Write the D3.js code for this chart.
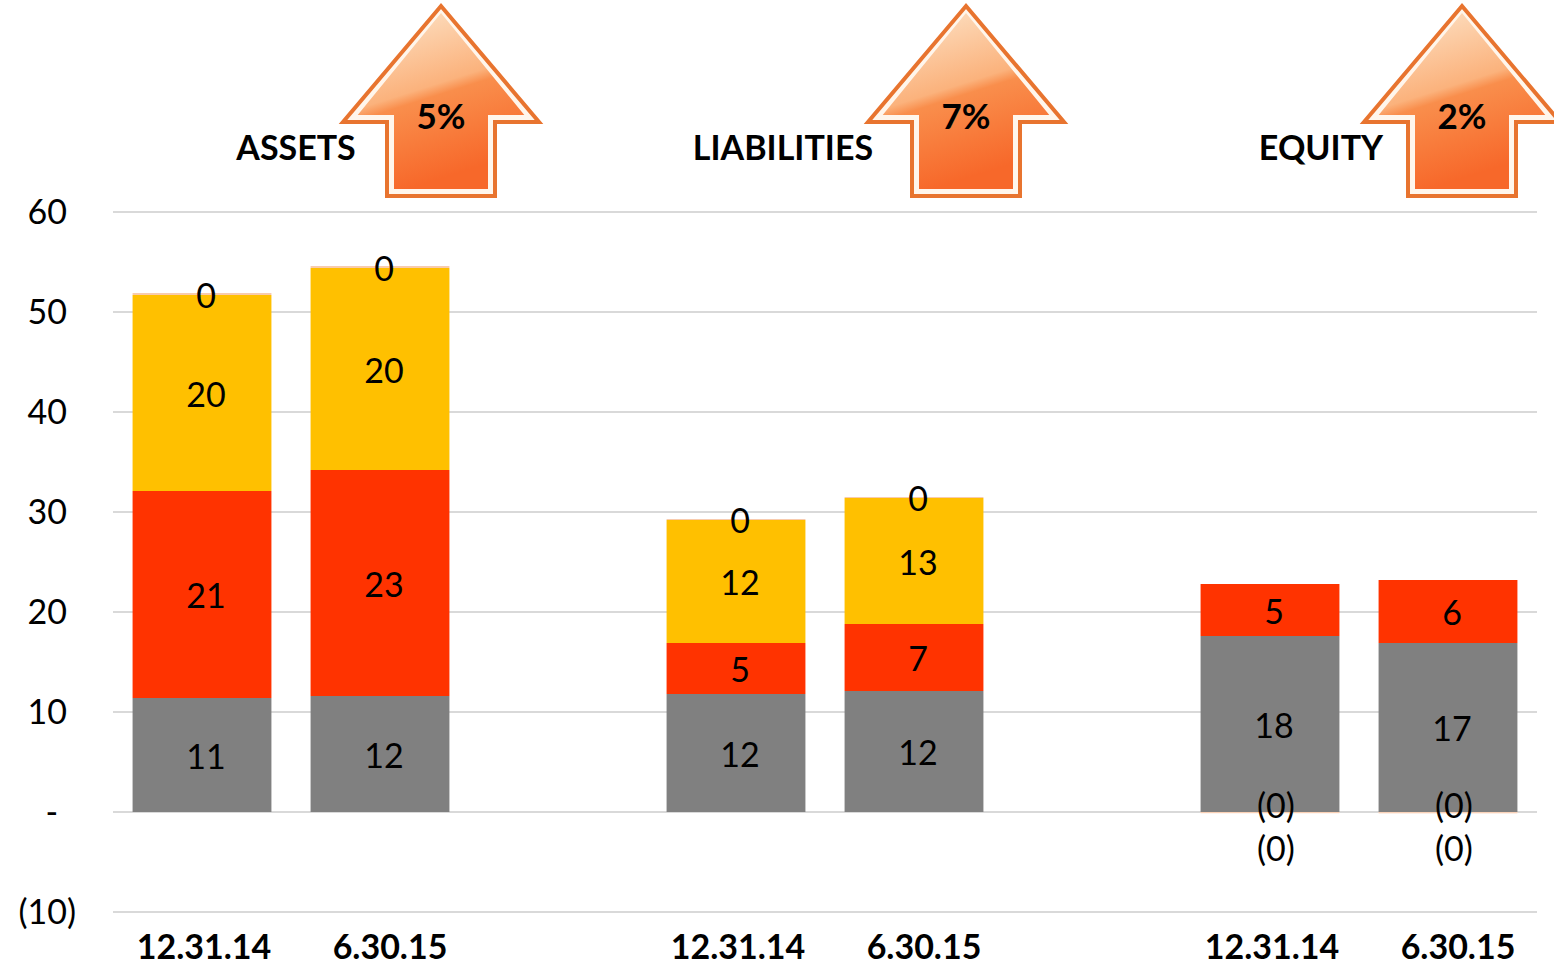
<!DOCTYPE html>
<html><head><meta charset="utf-8">
<script src="https://cdn.jsdelivr.net/npm/d3@7"></script>
<style>body{margin:0;background:#fff}svg{display:block}text{font-family:Lato,"Open Sans",sans-serif}</style>
</head><body>
<svg id="c" width="1554" height="966"></svg>
<script>
// ---- data ----
const groups = ["ASSETS", "LIABILITIES", "EQUITY"];
const changes = ["5%", "7%", "2%"];
const periods = ["12.31.14", "6.30.15"];
const grayVals   = [11.4, 11.6, 11.8, 12.1, 17.6, 16.9];
const redVals    = [20.7, 22.6, 5.1, 6.7, 5.2, 6.3];
const yellowVals = [19.6, 20.2, 12.3, 12.6, null, null];
const peachVals  = [0.2, 0.2, 0.1, 0.1, null, null];
const neg1Vals   = [null, null, null, null, -0.02, -0.03];
const neg2Vals   = [null, null, null, null, -0.02, -0.05];
const yTicks = [-10, 0, 10, 20, 30, 40, 50, 60];

(function(){
const posSeries = [
  {vals: grayVals, color: "#808080"},
  {vals: redVals, color: "#FF3300"},
  {vals: yellowVals, color: "#FFC000"},
  {vals: peachVals, color: "#F8CBAD"}
];
const negSeries = [
  {vals: neg1Vals, color: "#FBE5D6"},
  {vals: neg2Vals, color: "#F8CBAD"}
];

const svg = d3.select("#c");
const L = 113, R = 1537, T = 212, B = 912;
const FS = 34;
const y = d3.scaleLinear().domain([-10, 60]).range([B, T]);
// 8 slots: two bars per group plus a blank slot between groups
const x = d3.scaleBand().domain(d3.range(8)).range([L, R]).paddingInner(0.22).paddingOuter(0.11);
const slotOf = i => Math.floor(i / 2) * 3 + (i % 2);

// gridlines
svg.append("g").selectAll("line").data(yTicks).join("line")
  .attr("x1", L).attr("x2", R)
  .attr("y1", d => y(d)).attr("y2", d => y(d))
  .attr("stroke", "#D9D9D9").attr("stroke-width", 2);

// y tick labels (accounting format)
const yl = svg.append("g").selectAll("text").data(yTicks).join("text")
  .attr("x", 76).attr("y", d => y(d)).attr("dy", "0.35em")
  .attr("text-anchor", "end").attr("font-size", FS).attr("fill", "#000");
yl.each(function(d){
  const t = d3.select(this);
  if (d < 0) { t.text("(" + Math.abs(d) + ")"); }
  else {
    t.append("tspan").text(d === 0 ? "-" : String(d));
    t.append("tspan").attr("fill-opacity", 0).text(d === 0 ? " )" : ")");
  }
});

// bars
const bars = svg.append("g");
const labels = svg.append("g");
grayVals.forEach((_, i) => {
  const xs = x(slotOf(i)), w = x.bandwidth();
  let cum = 0;
  posSeries.forEach(s => {
    const v = s.vals[i];
    if (v == null) return;
    bars.append("rect").attr("x", xs).attr("width", w)
      .attr("y", y(cum + v)).attr("height", y(cum) - y(cum + v)).attr("fill", s.color);
    labels.append("text").attr("x", xs + w / 2 + 4).attr("y", y(cum + v / 2) + 2).attr("dy", "0.35em")
      .attr("text-anchor", "middle").attr("font-size", FS).attr("fill", "#000")
      .text(d3.format(".0f")(v));
    cum += v;
  });
  let ncum = 0;
  negSeries.forEach((s, k) => {
    const v = s.vals[i];
    if (v == null) return;
    bars.append("rect").attr("x", xs).attr("width", w)
      .attr("y", y(ncum)).attr("height", Math.max(1, y(ncum + v) - y(ncum))).attr("fill", s.color);
    labels.append("text").attr("x", xs + w / 2 + 6)
      .attr("y", y(ncum + v / 2) - 6 + k * 43).attr("dy", "0.35em")
      .attr("text-anchor", "middle").attr("font-size", FS).attr("fill", "#000")
      .text("(" + d3.format(".0f")(Math.abs(v)) + ")");
    ncum += v;
  });
  // category labels
  svg.append("text").attr("x", xs + w / 2 + (i % 2 ? 10 : 2)).attr("y", 947).attr("dy", "0.35em")
    .attr("text-anchor", "middle").attr("font-size", FS).attr("font-weight", "bold")
    .text(periods[i % 2]);
});

// gradient for arrows
const defs = svg.append("defs");
const grad = defs.append("linearGradient").attr("id", "ag").attr("x1", 0).attr("y1", 0).attr("x2", 0.3).attr("y2", 1);
[[0, "#FDE6CC"], [0.5, "#FBB27C"], [0.56, "#F98E4C"], [1, "#F7682A"]].forEach(([o, c]) =>
  grad.append("stop").attr("offset", o).attr("stop-color", c));

// group titles + arrows
const titleX = [296, 783, 1321];
const arrowX = [441, 966, 1462];
const arrowPts = (cx, s) => [
  [cx, 6 + s], [cx + 98 - s * 2.1, 122 - s], [cx + 54 - s, 122 - s], [cx + 54 - s, 196 - s],
  [cx - 54 + s, 196 - s], [cx - 54 + s, 122 - s], [cx - 98 + s * 2.1, 122 - s]
];
groups.forEach((g, k) => {
  svg.append("text").attr("x", titleX[k]).attr("y", 148).attr("dy", "0.35em")
    .attr("text-anchor", "middle").attr("font-size", FS).attr("font-weight", "bold").text(g);
  const cx = arrowX[k];
  svg.append("polygon").attr("points", arrowPts(cx, 0).join(" "))
    .attr("fill", "#FFF6EC").attr("stroke", "#E8742F").attr("stroke-width", 4).attr("stroke-linejoin", "miter");
  svg.append("polygon").attr("points", arrowPts(cx, 7).join(" "))
    .attr("fill", "url(#ag)");
  svg.append("text").attr("x", cx).attr("y", 117).attr("dy", "0.35em")
    .attr("text-anchor", "middle").attr("font-size", 35).attr("font-weight", "bold").text(changes[k]);
});
})();
</script>
</body></html>
